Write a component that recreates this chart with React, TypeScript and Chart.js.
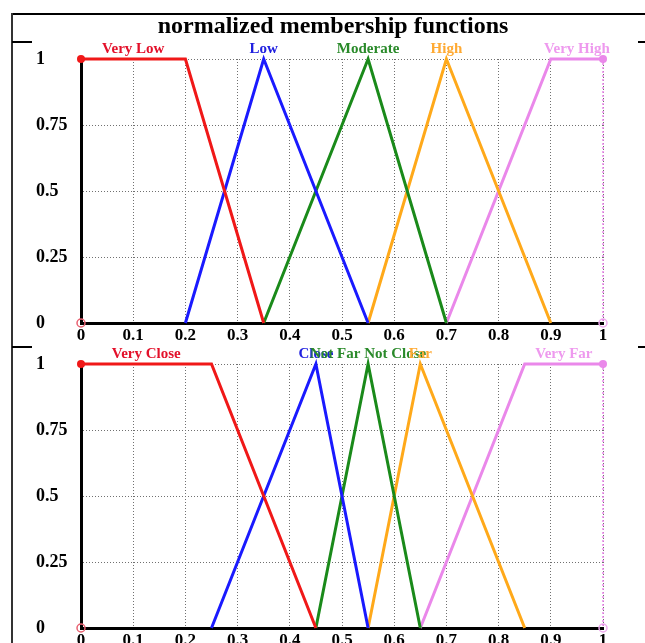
import React, { useEffect, useRef } from "react";
import { Chart, registerables } from "chart.js";
Chart.register(...registerables);

// ---------- data ----------
const titleText = "normalized membership functions";
const xTickLabels = ["0", "0.1", "0.2", "0.3", "0.4", "0.5", "0.6", "0.7", "0.8", "0.9", "1"];
const yTickLabels = ["0", "0.25", "0.5", "0.75", "1"];

const topNames = ["Very Low", "Low", "Moderate", "High", "Very High"];
const topXs = [
  [0, 0.2, 0.35],
  [0.2, 0.35, 0.55],
  [0.35, 0.55, 0.7],
  [0.55, 0.7, 0.9],
  [0.7, 0.9, 1],
];
const topYs = [
  [1, 1, 0],
  [0, 1, 0],
  [0, 1, 0],
  [0, 1, 0],
  [0, 1, 1],
];
const topLabelAt = [0.1, 0.35, 0.55, 0.7, 0.95];

const bottomNames = ["Very Close", "Close", "Not Far Not Close", "Far", "Very Far"];
const bottomXs = [
  [0, 0.25, 0.45],
  [0.25, 0.45, 0.55],
  [0.45, 0.55, 0.65],
  [0.55, 0.65, 0.85],
  [0.65, 0.85, 1],
];
const bottomYs = [
  [1, 1, 0],
  [0, 1, 0],
  [0, 1, 0],
  [0, 1, 0],
  [0, 1, 1],
];
const bottomLabelAt = [0.125, 0.45, 0.55, 0.65, 0.925];

const colors = ["#f01818", "#1a1aff", "#1a8a1a", "#ffa91a", "#ea88ea"];
const labelColors = ["#e3102a", "#2020e0", "#2a8a2a", "#ffaa33", "#ee99ee"];

const SERIF = "'Liberation Serif', 'Times New Roman', serif";

type MFProps = {
  names: string[];
  xs: number[][];
  ys: number[][];
  labelAt: number[];
  title?: string;
  height: number;
  padTop: number;
  xAxisHeight: number;
};

function MFChart(props: MFProps) {
  const ref = useRef<HTMLCanvasElement | null>(null);
  useEffect(() => {
    const canvas = ref.current;
    if (!canvas) return;
    const n = props.names.length;
    const datasets: any[] = props.xs.map((xs, i) => ({
      label: props.names[i],
      data: xs.map((x, j) => ({ x, y: props.ys[i][j] })),
      borderColor: colors[i],
      backgroundColor: colors[i],
      borderWidth: 3,
      tension: 0,
      clip: false,
      pointRadius: xs.map((x, j) =>
        (i === 0 && j === 0) || (i === n - 1 && j === xs.length - 1) ? 4 : 0
      ),
      pointBorderWidth: 0,
    }));
    const last = props.xs[n - 1];
    datasets.push({
      label: "edge",
      data: [
        { x: last[last.length - 1], y: 1 },
        { x: last[last.length - 1], y: 0 },
      ],
      borderColor: colors[n - 1],
      borderWidth: 1.5,
      borderDash: [2, 2],
      pointRadius: 0,
      clip: false,
    });
    datasets.push({
      label: "open0",
      data: [{ x: props.xs[0][0], y: 0 }],
      showLine: false,
      pointRadius: 4,
      pointBackgroundColor: "rgba(0,0,0,0)",
      pointBorderColor: "#e86070",
      pointBorderWidth: 1.5,
      clip: false,
    });
    datasets.push({
      label: "open1",
      data: [{ x: last[last.length - 1], y: 0 }],
      showLine: false,
      pointRadius: 4,
      pointBackgroundColor: "rgba(0,0,0,0)",
      pointBorderColor: "#eeaaee",
      pointBorderWidth: 1.5,
      clip: false,
    });

    const labelPlugin = {
      id: "mfLabels",
      afterDatasetsDraw(chart: any) {
        const ctx = chart.ctx;
        const xs = chart.scales.x;
        const area = chart.chartArea;
        ctx.save();
        ctx.font = `bold 15px ${SERIF}`;
        ctx.textAlign = "center";
        ctx.textBaseline = "middle";
        props.labelAt.forEach((v, i) => {
          ctx.fillStyle = labelColors[i];
          ctx.fillText(props.names[i], xs.getPixelForValue(v), area.top - 10);
        });
        if (props.title) {
          ctx.fillStyle = "#000";
          ctx.font = `bold 24px ${SERIF}`;
          ctx.fillText(props.title, 333, 27);
        }
        ctx.restore();
      },
    };

    const grid = {
      color: "#707070",
      lineWidth: 1,
      drawTicks: false,
    };
    const border = { display: true, color: "#000", width: 3, dash: [1, 2] };

    const chart = new Chart(canvas, {
      type: "line",
      data: { datasets },
      options: {
        animation: false,
        responsive: false,
        devicePixelRatio: 1,
        layout: { padding: { left: 36, right: 42, top: props.padTop, bottom: 0 } },
        plugins: {
          legend: { display: false },
          tooltip: { enabled: false },
          title: { display: false },
        },
        scales: {
          x: {
            type: "linear",
            min: 0,
            max: 1,
            grid: grid as any,
            border: border as any,
            ticks: {
              stepSize: 0.1,
              padding: 2,
              color: "#000",
              font: { family: SERIF, size: 17, weight: "bold" },
              maxRotation: 0,
              autoSkip: false,
              callback: (v: any, idx: number) => xTickLabels[idx],
            },
            afterFit: (s: any) => {
              s.height = props.xAxisHeight;
            },
          },
          y: {
            type: "linear",
            min: 0,
            max: 1,
            grid: grid as any,
            border: border as any,
            ticks: {
              stepSize: 0.25,
              crossAlign: "far",
              color: "#000",
              font: { family: SERIF, size: 18, weight: "bold" },
              callback: (v: any, idx: number) => yTickLabels[idx],
            },
            afterFit: (s: any) => {
              s.width = 45;
            },
          },
        },
      },
      plugins: [labelPlugin],
    });
    return () => chart.destroy();
  }, []);
  return <canvas ref={ref} width={645} height={props.height} style={{ display: "block" }} />;
}

const line = (l: number, t: number, w: number, h: number, c = "#000") => (
  <div style={{ position: "absolute", left: l, top: t, width: w, height: h, background: c }} />
);

export default function App() {
  return (
    <div style={{ position: "absolute", left: 0, top: 0, width: 645, height: 643, overflow: "hidden", background: "#fff" }}>
      <div style={{ position: "absolute", left: 0, top: 0 }}>
        <MFChart
          names={topNames}
          xs={topXs}
          ys={topYs}
          labelAt={topLabelAt}
          title={titleText}
          height={345}
          padTop={59}
          xAxisHeight={22}
        />
      </div>
      <div style={{ position: "absolute", left: 0, top: 345 }}>
        <MFChart
          names={bottomNames}
          xs={bottomXs}
          ys={bottomYs}
          labelAt={bottomLabelAt}
          height={298}
          padTop={19}
          xAxisHeight={15}
        />
      </div>
      {line(12, 13, 633, 2)}
      {line(11, 13, 2, 630, "#333")}
      {line(12, 41, 20, 2)}
      {line(638, 41, 7, 2)}
      {line(12, 346, 20, 2)}
      {line(638, 346, 7, 2)}
    </div>
  );
}
